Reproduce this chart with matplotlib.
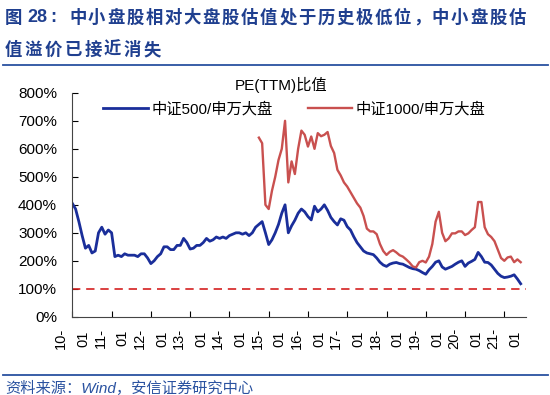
import numpy as np
import matplotlib.pyplot as plt

plt.rcParams['font.family'] = ['Liberation Sans', 'Noto Sans CJK SC']

# monthly PE(TTM) ratios, %
blue_start = 2010  # 2010-01
blue = [405, 385, 340, 290, 245, 255, 228, 235, 300, 320, 295, 310,
        300, 215, 220, 215, 225, 220, 220, 220, 215, 225, 225, 210,
        190, 200, 215, 225, 250, 250, 240, 240, 255, 255, 280, 265,
        242, 245, 255, 255, 265, 280, 270, 275, 285, 280, 285, 280,
        290, 295, 300, 300, 295, 300, 290, 300, 320, 330, 340, 300,
        258, 275, 300, 330, 370, 400, 300, 325, 345, 370, 385, 375,
        358, 346, 395, 375, 385, 400, 380, 355, 340, 328, 350, 345,
        322, 310, 286, 265, 250, 235, 228, 225, 222, 210, 195, 185,
        180, 188, 192, 194, 190, 188, 182, 176, 172, 170, 165, 158,
        152, 168, 180, 195, 200, 178, 170, 175, 180, 188, 195, 200,
        180, 192, 198, 205, 230, 215, 195, 194, 185, 170, 155, 145,
        140, 142, 145, 150, 135, 118]

red_start = 2014 + 9 / 12  # 2014-10
red = [640, 620, 400,
       385, 450, 500, 560, 600, 700, 480, 555, 510, 600, 665, 650,
       608, 644, 600, 656, 645, 650, 660, 610, 585, 525, 505, 480,
       465, 445, 425, 405, 390, 360, 315, 305, 305, 295, 260, 235,
       221, 232, 238, 230, 220, 215, 205, 194, 180, 176, 195, 200,
       194, 215, 260, 340, 375, 300, 270, 280, 298, 298, 305, 305,
       292, 298, 310, 320, 410, 410, 320, 295, 285, 270, 240, 210,
       200, 212, 215, 195, 205, 195]

years = list(range(2010, 2022))
tick_labels = [f'{y % 100:02d}-\n01' for y in years]

blue_x = blue_start + np.arange(len(blue)) / 12
red_x = red_start + np.arange(len(red)) / 12

fig = plt.figure(figsize=(5.5, 3.95), dpi=100)
ax = fig.add_axes([0.1315, 0.198, 0.824, 0.567])

ax.plot(blue_x, blue, color='#1a2e9a', lw=2.0, label='中证500/申万大盘')
ax.plot(red_x, red, color='#c9504f', lw=1.7, label='中证1000/申万大盘')
ax.axhline(100, color='#d42020', lw=1.2, dashes=(5, 3.5))

ax.set_xlim(2010, 2021.54)
ax.set_ylim(0, 800)
ax.set_yticks(range(0, 801, 100))
ax.set_yticklabels([f'{v}%' for v in range(0, 801, 100)])
ax.set_xticks(years)
ax.set_xticklabels(tick_labels, rotation=90, linespacing=1.75, ha='center', va='top',
                   multialignment='center')
ax.tick_params(axis='y', direction='in', length=4, labelsize=11, pad=11)
ax.tick_params(axis='x', direction='in', length=4, labelsize=10.5, pad=8)
for s in ['top', 'right']:
    ax.spines[s].set_visible(False)
for s in ['left', 'bottom']:
    ax.spines[s].set_color('#444444')

ax.legend(loc='upper center', bbox_to_anchor=(0.49, 1.02), ncol=2, frameon=False,
          fontsize=11, handlelength=2.9, handletextpad=0.25, columnspacing=2.3)
ax.set_title('PE(TTM)比值', fontsize=11, pad=2, x=0.46)

# title, drawn char by char to get the wide spacing
tcolor = '#1f3f8f'
fig.text(5 / 550, 1 - 18 / 395, '图', fontsize=12.5, weight='bold', color=tcolor,
         va='center', family='Noto Sans CJK SC')
fig.text(27 / 550, 1 - 18 / 395, '28', fontsize=13, weight='bold', color=tcolor,
         va='center', family='Liberation Sans')
fig.text(50 / 550, 1 - 18 / 395, ':', fontsize=13, weight='bold', color=tcolor,
         va='center', family='Liberation Sans')
line1 = '中小盘股相对大盘股估值处于历史极低位，中小盘股估'
for i, ch in enumerate(line1):
    fig.text((69 + i * 19.1) / 550, 1 - 18 / 395, ch, fontsize=12.5, weight='bold',
             color=tcolor, va='center', family='Noto Sans CJK SC')
line2 = '值溢价已接近消失'
for i, ch in enumerate(line2):
    fig.text((5 + i * 19.8) / 550, 1 - 50 / 395, ch, fontsize=12.5, weight='bold',
             color=tcolor, va='center', family='Noto Sans CJK SC')

fig.add_artist(plt.Line2D([3 / 550, 548 / 550], [1 - 65 / 395] * 2, color='#2a52a0', lw=1.3))
fig.add_artist(plt.Line2D([3 / 550, 548 / 550], [1 - 374.5 / 395] * 2, color='#2a52a0', lw=1.3))
fig.text(5 / 550, 1 - 388 / 395, '资料来源：Wind，安信证券研究中心', fontsize=11, style='italic',
         color='#2a52a0', va='center', family=['Liberation Sans', 'Noto Sans CJK SC'])

fig.savefig('out.png', dpi=100)
